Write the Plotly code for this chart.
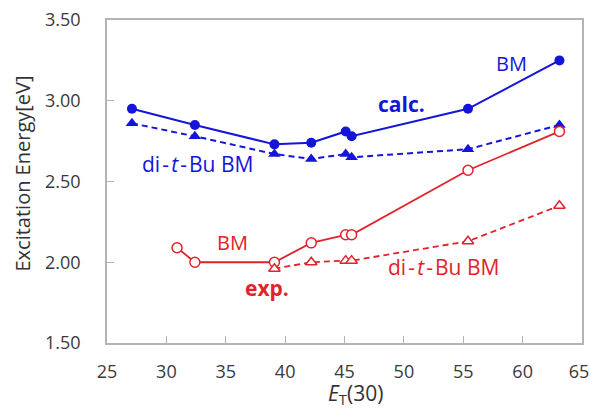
import plotly.graph_objects as go

# E_T(30) values
x_calc = [27.1, 32.4, 39.1, 42.2, 45.1, 45.6, 55.4, 63.1]
y_calc_bm = [2.95, 2.85, 2.73, 2.74, 2.81, 2.78, 2.95, 3.25]
y_calc_dtb = [2.86, 2.78, 2.67, 2.64, 2.67, 2.65, 2.70, 2.85]

x_exp_bm = [30.9, 32.4, 39.1, 42.2, 45.1, 45.6, 55.4, 63.1]
y_exp_bm = [2.09, 2.00, 2.00, 2.12, 2.17, 2.17, 2.57, 2.81]

x_exp_dtb = [39.1, 42.2, 45.1, 45.6, 55.4, 63.1]
y_exp_dtb = [1.96, 2.00, 2.01, 2.01, 2.13, 2.35]

x_ticks = [25, 30, 35, 40, 45, 50, 55, 60, 65]
x_tick_labels = ["25", "30", "35", "40", "45", "50", "55", "60", "65\u2004"]
y_ticks = [1.50, 2.00, 2.50, 3.00, 3.50]
y_tick_labels = ["1.50", "2.00", "2.50", "3.00", "3.50"]

BLUE = "#1515d8"
RED = "#e0232b"
FONT = "Open Sans"
HS = "\u200a"  # hair space: the reference font has wider hyphens

fig = go.Figure()
fig.add_trace(go.Scatter(x=x_calc, y=y_calc_bm, mode="lines+markers",
                         line=dict(color=BLUE, width=2),
                         marker=dict(symbol="circle", size=10, color=BLUE)))
fig.add_trace(go.Scatter(x=x_calc, y=y_calc_dtb, mode="lines+markers",
                         line=dict(color=BLUE, width=2, dash="6px,4px"),
                         marker=dict(symbol="triangle-up", size=11, color=BLUE)))
fig.add_trace(go.Scatter(x=x_exp_bm, y=y_exp_bm, mode="lines+markers",
                         line=dict(color=RED, width=1.8),
                         marker=dict(symbol="circle", size=10, color="white",
                                     line=dict(color=RED, width=1.5))))
fig.add_trace(go.Scatter(x=x_exp_dtb, y=y_exp_dtb, mode="lines+markers",
                         line=dict(color=RED, width=1.8, dash="6px,4px"),
                         marker=dict(symbol="triangle-up", size=10, color="white",
                                     line=dict(color=RED, width=1.5))))

dtb = "di" + HS + "-" + HS + "<i>t</i>" + HS + "-" + HS + "Bu BM"
annos = [
    dict(x=59.1, y=3.23, text="BM", color=BLUE, bold=False, size=20),
    dict(x=49.8, y=2.98, text="calc.", color=BLUE, bold=True, size=21),
    dict(x=32.6, y=2.61, text=dtb, color=BLUE, bold=False, size=21),
    dict(x=35.6, y=2.12, text="BM", color=RED, bold=False, size=20),
    dict(x=38.45, y=1.84, text="exp.", color=RED, bold=True, size=21),
    dict(x=53.3, y=1.97, text=dtb, color=RED, bold=False, size=21),
]
for a in annos:
    fig.add_annotation(x=a["x"], y=a["y"], xref="x", yref="y",
                       text=("<b>%s</b>" % a["text"]) if a["bold"] else a["text"],
                       showarrow=False,
                       font=dict(family=FONT, size=a["size"], color=a["color"]))

# axis titles as paper annotations (fixed placement, no automargin)
fig.add_annotation(x=(355 - 107) / 475, y=(343 - 394) / 323, xref="paper", yref="paper",
                   text="<i>E</i><sub>T</sub>(30)", showarrow=False,
                   xanchor="center", yanchor="middle",
                   font=dict(family=FONT, size=21, color="#333333"))
fig.add_annotation(x=(22 - 107) / 475, y=(343 - 173.5) / 323, xref="paper", yref="paper",
                   text="Excitation Energy[eV]", showarrow=False, textangle=-90,
                   xanchor="center", yanchor="middle",
                   font=dict(family=FONT, size=20, color="#333333"))

axis_common = dict(showgrid=False, zeroline=False, showline=True, mirror=True,
                   linecolor="#b4b4b4", linewidth=1.5, ticks="inside",
                   ticklen=7, tickcolor="#b4b4b4", tickwidth=1.2,
                   ticklabeloverflow="allow", automargin=False,
                   tickfont=dict(family=FONT, size=18, color="#3a3a3a"))

fig.update_xaxes(range=[25, 65], tickvals=x_ticks, ticktext=x_tick_labels,
                 ticklabelstandoff=12, **axis_common)
fig.update_yaxes(range=[1.5, 3.5], tickvals=y_ticks, ticktext=y_tick_labels,
                 ticklabelstandoff=21, **axis_common)

fig.update_layout(width=590, height=409, showlegend=False,
                  margin=dict(l=107, r=8, t=20, b=66),
                  paper_bgcolor="white", plot_bgcolor="white")

fig.write_html("out.html")
